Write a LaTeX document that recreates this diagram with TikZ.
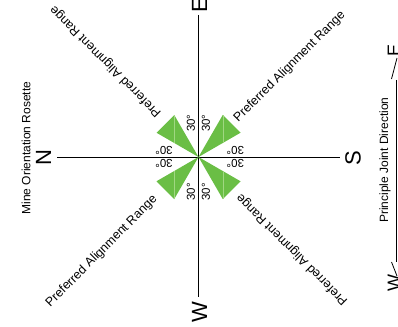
\documentclass[tikz,border=0pt]{standalone}
\usepackage{fontspec}
\setmainfont{Liberation Sans}
\usetikzlibrary{calc}
\definecolor{wgreen}{RGB}{106,190,69}
\definecolor{wlight}{RGB}{160,215,130}
\begin{document}
\begin{tikzpicture}[x=1pt,y=-1pt,
  axis/.style={line width=1pt},
  lbl/.style={font=\fontsize{12.5}{14}\selectfont, inner sep=0pt},
  minelbl/.style={font=\fontsize{12}{14}\selectfont, inner sep=0pt},
  big/.style={font=\fontsize{22}{24}\selectfont, inner sep=0pt},
  deg/.style={font=\fontsize{11.5}{13}\selectfont, inner sep=0pt},
  wedge/.style={fill=wgreen, draw=none},
  seam/.style={draw=wlight, line width=0.5pt}]
\useasboundingbox (0,0) rectangle (398,326);
\coordinate (O) at (198.5,157);
% axes
\coordinate (Ntop) at (198.5,15);
\coordinate (Nbot) at (198.5,297);
\coordinate (Wl) at (57,157);
\coordinate (Er) at (340,157);
\draw[axis] (Ntop) -- (Nbot);
\draw[axis] (Wl) -- (Er);
% wedges
\fill[wedge] (O) -- ($(O)+(-120:48.5)$) -- ($(O)+(-150:48.5)$) -- cycle;
\fill[wedge] (O) -- ($(O)+(-60:48.5)$) -- ($(O)+(-30:48.5)$) -- cycle;
\fill[wedge] (O) -- ($(O)+(120:48.5)$) -- ($(O)+(150:48.5)$) -- cycle;
\fill[wedge] (O) -- ($(O)+(60:48.5)$) -- ($(O)+(30:48.5)$) -- cycle;
\draw[seam] ($(O)+(-24.25,-42)$) -- ($(O)+(-24.25,-14)$);
\draw[seam] ($(O)+(24.25,-42)$) -- ($(O)+(24.25,-14)$);
\draw[seam] ($(O)+(-24.25,42)$) -- ($(O)+(-24.25,14)$);
\draw[seam] ($(O)+(24.25,42)$) -- ($(O)+(24.25,14)$);
% compass letters
\node[big, rotate=90] (E) at (199.5,5) {E};
\node[big, rotate=90] (N) at (43.5,158) {N};
\node[big, rotate=90] (S) at (353,158) {S};
\node[big, rotate=90] (W) at (199.5,312) {W};
% 30 degree labels
\node[deg, rotate=90] (d1) at (190.8,123.3) {30°};
\node[deg, rotate=90] (d2) at (205.8,123.3) {30°};
\node[deg, rotate=90] (d3) at (190.8,191.7) {30°};
\node[deg, rotate=90] (d4) at (205.8,191.7) {30°};
\node[deg, rotate=180] (d5) at (164,150) {30°};
\node[deg, rotate=180] (d6) at (235.3,150) {30°};
\node[deg, rotate=180] (d7) at (164,163) {30°};
\node[deg, rotate=180] (d8) at (235.3,163) {30°};
% preferred alignment range
\node[lbl, rotate=135] (p1) at (105.8,61.7) {Preferred Alignment Range};
\node[lbl, rotate=45] (p2) at (289.7,66.7) {Preferred Alignment Range};
\node[lbl, rotate=45] (p3) at (101.7,251.3) {Preferred Alignment Range};
\node[lbl, rotate=135] (p4) at (292.2,249.7) {Preferred Alignment Range};
% title
\node[minelbl, rotate=90] (title) at (26,148) {Mine Orientation Rosette};
% principle joint direction
\node[big, font=\fontsize{18}{20}\selectfont, rotate=90] (E2) at (394,50) {E};
\node[big, font=\fontsize{18}{20}\selectfont, rotate=90] (W2) at (394,283) {W};
\node[minelbl, rotate=90] (pjd) at (385,160) {Principle Joint Direction};
\coordinate (j1) at (397,58);
\coordinate (j2) at (391.5,79);
\coordinate (j3) at (391.5,262);
\coordinate (j4) at (397,276);
\draw[line width=0.8pt] (j1) -- (j2);
\draw[line width=0.8pt] (j3) -- (j4);
\draw[line width=1pt] (396.5,80) -- (396.5,262);
\end{tikzpicture}
\end{document}
